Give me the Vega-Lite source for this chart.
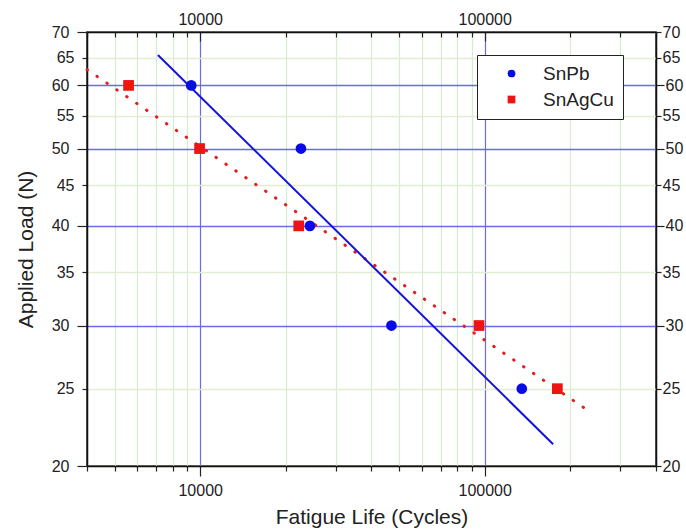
{
  "$schema": "https://vega.github.io/schema/vega-lite/v6.json",
  "width": 569,
  "height": 434,
  "autosize": {"type": "none"},
  "padding": {"left": 87, "top": 32, "right": 30, "bottom": 65},
  "background": "white",
  "config": {
    "view": {"stroke": "#111", "strokeWidth": 1.5},
    "font": "Liberation Sans",
    "axis": {
      "labelFont": "Liberation Sans",
      "titleFont": "Liberation Sans",
      "labelColor": "#222",
      "titleColor": "#222",
      "tickColor": "#222",
      "domainColor": "#111",
      "domainWidth": 1.5,
      "tickWidth": 1.2,
      "labelFontSize": 16,
      "titleFontSize": 21,
      "titleFontWeight": "normal",
      "labelOverlap": false,
      "labelFlush": false
    }
  },
  "datasets": {
    "pts": [
      {"series": "SnPb", "cycles": 9300, "load": 60},
      {"series": "SnPb", "cycles": 22600, "load": 50},
      {"series": "SnPb", "cycles": 24300, "load": 40},
      {"series": "SnPb", "cycles": 47000, "load": 30},
      {"series": "SnPb", "cycles": 135000, "load": 25},
      {"series": "SnAgCu", "cycles": 5600, "load": 60},
      {"series": "SnAgCu", "cycles": 9950, "load": 50},
      {"series": "SnAgCu", "cycles": 22200, "load": 40},
      {"series": "SnAgCu", "cycles": 95500, "load": 30},
      {"series": "SnAgCu", "cycles": 180000, "load": 25}
    ],
    "fitPb": [
      {"cycles": 7100, "load": 65.5},
      {"cycles": 174000, "load": 21.3}
    ],
    "fitAg": [
      {"cycles": 4000, "load": 62.8},
      {"cycles": 238000, "load": 23.3}
    ]
  },
  "resolve": {"axis": {"x": "independent", "y": "independent"}},
  "layer": [
    {
      "data": {"name": "pts"},
      "mark": {"type": "point", "filled": true, "opacity": 0},
      "encoding": {
        "x": {
          "field": "cycles", "type": "quantitative",
          "scale": {"type": "log", "domain": [4000, 400000], "nice": false},
          "axis": {
            "orient": "top", "title": null, "grid": false,
            "values": [4000,5000,6000,7000,8000,9000,10000,20000,30000,40000,50000,60000,70000,80000,90000,100000,200000,300000,400000],
            "format": "d",
            "labelExpr": "datum.value == 10000 || datum.value == 100000 ? datum.label : ''",
            "tickSize": {"condition": {"test": "datum.value == 10000 || datum.value == 100000", "value": -9}, "value": -5},
            "labelPadding": 14
          }
        },
        "y": {
          "field": "load", "type": "quantitative",
          "scale": {"type": "log", "domain": [20, 70], "nice": false},
          "axis": {
            "orient": "right", "title": null, "grid": false,
            "values": [20,25,30,35,40,45,50,55,60,65,70],
            "format": "d",
            "tickSize": {"condition": {"test": "datum.value == 30 || datum.value == 40 || datum.value == 50 || datum.value == 60", "value": 8}, "value": 5},
            "labelPadding": 1
          }
        }
      }
    },
    {
      "data": {"name": "fitAg"},
      "mark": {"type": "line", "color": "#e0201e", "strokeWidth": 3, "strokeDash": [0.5, 11.5], "strokeCap": "round"},
      "encoding": {
        "x": {"field": "cycles", "type": "quantitative", "axis": null},
        "y": {"field": "load", "type": "quantitative", "axis": null}
      }
    },
    {
      "data": {"name": "fitPb"},
      "mark": {"type": "line", "color": "#1414d8", "strokeWidth": 2},
      "encoding": {
        "x": {"field": "cycles", "type": "quantitative", "axis": null},
        "y": {"field": "load", "type": "quantitative", "axis": null}
      }
    },
    {
      "data": {"name": "pts"},
      "mark": {"type": "point", "filled": true, "opacity": 1},
      "encoding": {
        "x": {
          "field": "cycles", "type": "quantitative",
          "axis": {
            "orient": "bottom", "title": "Fatigue Life (Cycles)",
            "grid": true,
            "gridColor": {"condition": {"test": "datum.value == 10000 || datum.value == 100000", "value": "#6a6aea"}, "value": "#d6ebd2"},
            "gridWidth": 1.2,
            "values": [4000,5000,6000,7000,8000,9000,10000,20000,30000,40000,50000,60000,70000,80000,90000,100000,200000,300000,400000],
            "format": "d",
            "labelExpr": "datum.value == 10000 || datum.value == 100000 ? datum.label : ''",
            "tickSize": {"condition": {"test": "datum.value == 10000 || datum.value == 100000", "value": 10}, "value": 5},
            "labelPadding": 6,
            "titlePadding": 8
          }
        },
        "y": {
          "field": "load", "type": "quantitative",
          "axis": {
            "orient": "left", "title": "Applied Load (N)",
            "grid": true,
            "gridColor": {"condition": {"test": "datum.value == 30 || datum.value == 40 || datum.value == 50 || datum.value == 60", "value": "#6a6aea"}, "value": "#e2eed4"},
            "gridWidth": 1.3,
            "values": [20,25,30,35,40,45,50,55,60,65,70],
            "format": "d",
            "tickSize": {"condition": {"test": "datum.value == 20 || datum.value == 30 || datum.value == 40 || datum.value == 50 || datum.value == 60 || datum.value == 70", "value": 10}, "value": 5},
            "labelPadding": 8,
            "titlePadding": 15
          }
        },
        "color": {
          "field": "series", "type": "nominal",
          "scale": {"domain": ["SnPb", "SnAgCu"], "range": ["#0a0ae8", "#ee1414"]},
          "legend": {
            "title": null, "orient": "none", "legendX": 390, "legendY": 23,
            "fillColor": "white", "strokeColor": "#222",
            "padding": 9, "labelFontSize": 19, "labelFont": "Liberation Sans", "labelColor": "#222",
            "symbolOffset": 16, "labelOffset": 22, "rowPadding": 6, "symbolSize": 60,
            "symbolStrokeWidth": 0
          }
        },
        "shape": {
          "field": "series", "type": "nominal",
          "scale": {"domain": ["SnPb", "SnAgCu"], "range": ["circle", "square"]},
          "legend": null
        },
        "size": {"value": 115}
      }
    }
  ]
}
